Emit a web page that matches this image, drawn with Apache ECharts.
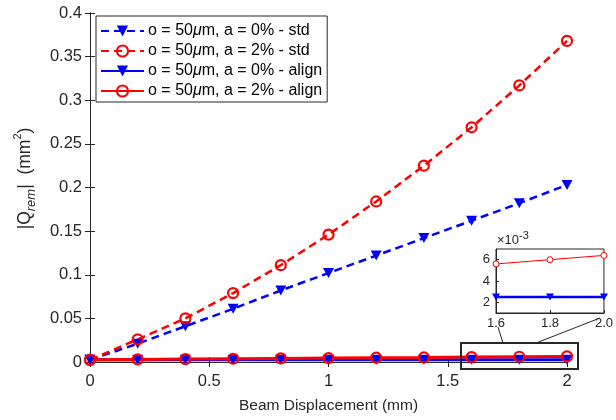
<!DOCTYPE html>
<html>
<head>
<meta charset="utf-8">
<script src="https://cdn.jsdelivr.net/npm/echarts@6/dist/echarts.min.js"></script>
<style>
  html, body { margin: 0; padding: 0; background: #fff; }
  #chart { width: 616px; height: 420px; }
</style>
</head>
<body>
<div id="chart"></div>
<script>
// beam displacement (mm)
const xs = [0, 0.2, 0.4, 0.6, 0.8, 1.0, 1.2, 1.4, 1.6, 1.8, 2.0]
// |Q_rem| (mm^2)
const stdA0 = [0.0025, 0.021, 0.041, 0.061, 0.082, 0.102, 0.122, 0.142, 0.162, 0.182, 0.203]
const stdA2 = [0.0025, 0.026, 0.050, 0.079, 0.111, 0.146, 0.184, 0.225, 0.269, 0.317, 0.368]
const alignA0 = [0.0025, 0.0025, 0.0025, 0.0025, 0.0025, 0.0025, 0.0025, 0.0025, 0.0025, 0.0025, 0.0025]
const alignA2 = [0.0025, 0.0029, 0.0033, 0.0037, 0.0041, 0.0045, 0.0049, 0.0052, 0.0056, 0.0060, 0.0064]
const seriesNames = [
  'o = 50μm, a = 0% - std',
  'o = 50μm, a = 2% - std',
  'o = 50μm, a = 0% - align',
  'o = 50μm, a = 2% - align'
]
const insetFrom = 1.6

const FONT = 'Liberation Sans, Arial, Helvetica, sans-serif'
const INK = '#262626'
const BLUE = '#0000ff'
const RED = '#ff0000'
const TRI = 'path://M0,0 L10,0 L5,9 Z'

const pairs = (ys, scale) => xs.map((x, i) => [x, ys[i] * (scale || 1)])
const insetPairs = ys => pairs(ys, 1000).filter(p => p[0] >= insetFrom - 1e-9)

const chart = echarts.init(document.getElementById('chart'), null, { renderer: 'canvas' })

function mainSeries(name, ys, color, dashed, tri) {
  return {
    name: name,
    type: 'line',
    xAxisIndex: 0,
    yAxisIndex: 0,
    data: pairs(ys),
    symbol: tri ? TRI : 'circle',
    symbolSize: tri ? [11, 10] : 10,
    showAllSymbol: true,
    lineStyle: { color: color, width: dashed ? 2.5 : 3, type: dashed ? [8, 5] : 'solid' },
    itemStyle: tri
      ? { color: color }
      : { color: 'rgba(255,255,255,0)', borderColor: color, borderWidth: 2.2 },
    emphasis: { disabled: true },
    z: 2
  }
}

const option = {
  animation: false,
  backgroundColor: '#fff',
  textStyle: { fontFamily: FONT },
  grid: [
    { left: 90, right: 49, top: 13, bottom: 58 },
    { left: 496, top: 249, width: 109, height: 64, show: true, backgroundColor: '#fff',
      borderColor: INK, borderWidth: 1, z: 6 }
  ],
  legend: {
    orient: 'vertical',
    left: 96,
    top: 16,
    padding: [7, 5, 3, 4],
    itemGap: 4,
    itemWidth: 43,
    itemHeight: 14,
    borderColor: INK,
    borderWidth: 1,
    backgroundColor: '#fff',
    data: seriesNames,
    formatter: n => n.replace('μ', '{i|μ}'),
    textStyle: {
      fontFamily: FONT, fontSize: 16, color: '#000', padding: [0, 0, 0, -1],
      rich: { i: { fontFamily: FONT, fontSize: 16, fontStyle: 'italic', color: '#000' } }
    }
  },
  xAxis: [
    {
      type: 'value', gridIndex: 0, min: 0, max: 2, interval: 0.5,
      name: 'Beam Displacement (mm)', nameLocation: 'middle', nameGap: 36,
      nameTextStyle: { fontSize: 15.5, color: INK, fontFamily: FONT },
      axisLine: { lineStyle: { color: '#808080', width: 1 } },
      axisTick: { inside: true, length: 5, lineStyle: { color: INK } },
      axisLabel: { fontSize: 16.5, color: INK, margin: 11, fontFamily: FONT },
      splitLine: { show: false }
    },
    {
      type: 'value', gridIndex: 0, position: 'top', min: 0, max: 2, interval: 0.5,
      axisLine: { lineStyle: { color: INK, width: 1 } },
      axisTick: { inside: true, length: 5, lineStyle: { color: INK } },
      axisLabel: { show: false }, splitLine: { show: false }
    },
    {
      type: 'value', gridIndex: 1, min: 1.6, max: 2.0, interval: 0.2, z: 6,
      axisLine: { lineStyle: { color: INK, width: 1 } },
      axisTick: { inside: true, length: 3, lineStyle: { color: INK } },
      axisLabel: { fontSize: 13, color: INK, margin: 4, fontFamily: FONT, formatter: v => v.toFixed(1) },
      splitLine: { show: false }
    }
  ],
  yAxis: [
    {
      type: 'value', gridIndex: 0, min: 0, max: 0.4, interval: 0.05,
      name: '|Q{sub|rem}|  (mm{sup|2})', nameLocation: 'middle', nameGap: 52, nameRotate: 90,
      nameTextStyle: {
        fontSize: 17.5, color: INK, fontFamily: FONT, lineHeight: 26, padding: [0, 0, 0, 18],
        rich: {
          sub: { fontSize: 13, fontStyle: 'italic', color: INK, fontFamily: FONT, verticalAlign: 'bottom', lineHeight: 26 },
          sup: { fontSize: 11, color: INK, fontFamily: FONT, verticalAlign: 'top', lineHeight: 26 }
        }
      },
      axisLine: { show: true, lineStyle: { color: INK, width: 1 } },
      axisTick: { show: true, inside: true, length: 5, lineStyle: { color: INK } },
      axisLabel: { fontSize: 16.5, color: INK, margin: 8, fontFamily: FONT },
      splitLine: { show: false }
    },
    {
      type: 'value', gridIndex: 0, position: 'right', min: 0, max: 0.4, interval: 0.05,
      axisLine: { show: true, lineStyle: { color: INK, width: 1 } },
      axisTick: { show: true, inside: true, length: 5, lineStyle: { color: INK } },
      axisLabel: { show: false }, splitLine: { show: false }
    },
    {
      type: 'value', gridIndex: 1, min: 1, max: 7, interval: 1, z: 6,
      axisLine: { show: true, lineStyle: { color: INK, width: 1 } },
      axisTick: { show: true, inside: true, length: 3, customValues: [2, 4, 6], lineStyle: { color: INK } },
      axisLabel: { fontSize: 13, color: INK, margin: 6, fontFamily: FONT, customValues: [2, 4, 6] },
      splitLine: { show: false }
    }
  ],
  graphic: [
    // white backing behind the inset
    { type: 'rect', shape: { x: 478, y: 235, width: 138, height: 92 }, style: { fill: '#fff' }, z: 5, silent: true },
    {
      type: 'text', left: 497, top: 230, z: 8,
      style: {
        text: '×10{sup|-3}', fontSize: 13, fontFamily: FONT, fill: INK,
        rich: { sup: { fontSize: 11, fontFamily: FONT, fill: INK, verticalAlign: 'top', lineHeight: 20 } }
      }
    },
    // zoom box + connectors
    { type: 'rect', shape: { x: 461, y: 343, width: 117, height: 26 }, style: { fill: 'none', stroke: INK, lineWidth: 2 }, z: 8 },
    { type: 'line', shape: { x1: 498, y1: 327, x2: 503, y2: 343 }, style: { stroke: INK, lineWidth: 1 }, z: 8 },
    { type: 'line', shape: { x1: 536, y1: 343, x2: 600, y2: 318 }, style: { stroke: INK, lineWidth: 1 }, z: 8 }
  ],
  series: [
    mainSeries(seriesNames[0], stdA0, BLUE, true, true),
    mainSeries(seriesNames[1], stdA2, RED, true, false),
    mainSeries(seriesNames[2], alignA0, BLUE, false, true),
    mainSeries(seriesNames[3], alignA2, RED, false, false),
    {
      name: 'inset-a0', type: 'line', xAxisIndex: 2, yAxisIndex: 2, z: 7,
      data: insetPairs(alignA0), symbol: TRI, symbolSize: [8, 7],
      lineStyle: { color: BLUE, width: 2.5 }, itemStyle: { color: BLUE },
      emphasis: { disabled: true }
    },
    {
      name: 'inset-a2', type: 'line', xAxisIndex: 2, yAxisIndex: 2, z: 7,
      data: insetPairs(alignA2), symbol: 'circle', symbolSize: 6,
      lineStyle: { color: RED, width: 1 },
      itemStyle: { color: '#fff', borderColor: RED, borderWidth: 1 },
      emphasis: { disabled: true }
    }
  ]
}

chart.setOption(option)
</script>
</body>
</html>
